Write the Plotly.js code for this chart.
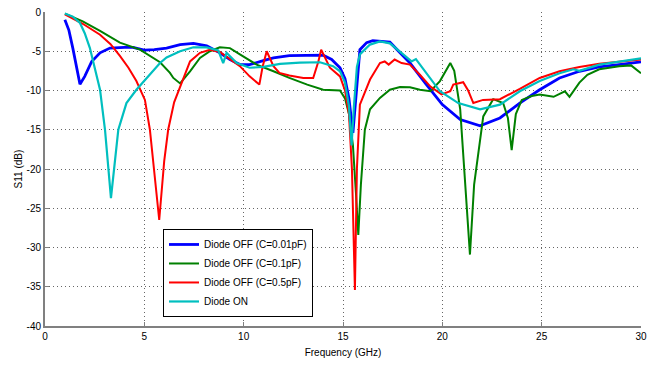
<!DOCTYPE html>
<html>
<head>
<meta charset="utf-8">
<script src="https://cdn.plot.ly/plotly-3.0.1.min.js"></script>
<style>html,body{margin:0;padding:0;background:#fff;}#chart{width:649px;height:365px;}</style>
</head>
<body>
<div id="chart"></div>
<script>
// Diode OFF (C=0.01pF)
const fBlue = [1, 1.2, 1.4, 1.6, 1.76, 2.0, 2.35, 2.77, 3.27, 4.0, 4.43, 5.0, 5.5, 6.12, 6.8, 7.47, 8.14, 8.8, 9.31, 9.81, 10.3, 10.99, 11.5, 12.3, 13.2, 14.0, 14.43, 14.85, 15.1, 15.3, 15.5, 15.65, 15.85, 16.19, 16.5, 17.36, 18.37, 19.2, 20.0, 20.9, 21.9, 22.9, 23.9, 24.9, 25.9, 26.9, 27.9, 28.9, 30];
const sBlue = [-1.0, -2.3, -4.6, -7.3, -9.2, -8.2, -6.3, -5.2, -4.6, -4.5, -4.5, -4.85, -4.8, -4.6, -4.15, -4.0, -4.3, -5.2, -6.05, -6.7, -6.7, -6.2, -5.85, -5.55, -5.5, -5.5, -6.05, -7.1, -8.5, -11, -15.4, -11, -4.8, -3.9, -3.65, -3.85, -6.5, -9.25, -11.8, -13.7, -14.5, -13.5, -11.6, -9.9, -8.4, -7.55, -7.0, -6.7, -6.35];

// Diode OFF (C=0.1pF)
const fGreen = [1, 1.9, 2.77, 3.77, 4.78, 5.79, 6.29, 6.46, 6.8, 7.3, 7.8, 8.3, 8.8, 9.31, 9.81, 10.65, 11.5, 12.3, 13.2, 14.0, 14.85, 15.1, 15.3, 15.5, 15.65, 15.77, 15.9, 16.1, 16.36, 16.86, 17.36, 17.87, 18.37, 18.87, 19.4, 19.88, 20.4, 20.6, 20.9, 21.1, 21.39, 21.6, 22.06, 22.56, 23.06, 23.3, 23.49, 23.7, 24.0, 24.5, 24.9, 25.6, 26.17, 26.4, 26.9, 27.3, 27.9, 28.9, 29.5, 30];
const sGreen = [-0.2, -1.2, -2.4, -3.9, -4.8, -6.4, -7.75, -8.4, -9.1, -7.55, -5.85, -5.0, -4.5, -4.6, -5.4, -6.7, -7.55, -8.4, -9.25, -9.9, -10.0, -11, -13, -17, -23, -28.4, -22, -15, -12.4, -10.95, -9.9, -9.55, -9.6, -9.9, -10.1, -8.8, -6.5, -7.5, -12.4, -20, -30.9, -22, -13.3, -11.1, -11.6, -13.5, -17.6, -13, -11.2, -10.7, -10.5, -10.8, -10.1, -10.8, -9.0, -8.0, -7.3, -6.9, -6.8, -7.8];

// Diode OFF (C=0.5pF)
const fRed = [1, 1.9, 2.77, 3.3, 3.77, 4.2, 4.6, 5.03, 5.28, 5.5, 5.75, 6.0, 6.2, 6.5, 6.96, 7.3, 7.8, 8.3, 8.8, 9.31, 9.81, 10.3, 10.79, 10.95, 11.16, 11.5, 11.8, 12.3, 13.0, 13.5, 13.76, 13.9, 14.18, 14.34, 14.85, 15.1, 15.3, 15.45, 15.6, 15.7, 15.85, 16.36, 16.86, 17.1, 17.3, 17.6, 17.95, 18.37, 18.87, 19.4, 19.96, 20.4, 20.55, 21.05, 21.3, 21.56, 22.05, 22.9, 23.9, 24.9, 25.9, 26.9, 27.9, 28.9, 30];
const sRed = [-0.3, -1.5, -2.9, -4.1, -5.6, -7.1, -8.8, -11.2, -15, -20, -26.5, -19, -15, -11.5, -8.4, -6.3, -5.2, -4.8, -5.1, -6.05, -6.9, -8.2, -9.25, -7, -5.0, -6.9, -7.75, -8.1, -8.4, -8.4, -6.3, -4.8, -6.3, -7.1, -8.2, -10, -13, -20, -35.4, -20, -11.8, -8.6, -6.5, -6.3, -6.7, -6.05, -6.5, -6.7, -8.0, -9.5, -10.5, -10.1, -9.25, -8.95, -10, -11.6, -11.2, -11.1, -9.8, -8.4, -7.55, -7.0, -6.6, -6.3, -6.05];

// Diode ON
const fCyan = [1, 1.4, 1.76, 2.0, 2.26, 2.5, 2.77, 3.02, 3.32, 3.69, 4.1, 4.6, 5.28, 5.79, 6.12, 6.8, 7.47, 8.14, 8.72, 8.97, 9.14, 9.65, 10.3, 10.99, 11.83, 12.83, 13.84, 14.5, 14.85, 15.1, 15.3, 15.43, 15.55, 15.7, 15.85, 16.36, 16.86, 17.36, 18.03, 18.45, 18.67, 19.2, 19.88, 20.8, 21.9, 22.9, 23.9, 24.9, 25.9, 26.6, 26.9, 27.9, 28.9, 30];
const sCyan = [-0.2, -0.6, -1.4, -2.7, -4.6, -7.0, -9.9, -15, -23.7, -15, -11.6, -9.9, -8.0, -6.5, -5.8, -5.0, -4.5, -4.5, -4.9, -6.5, -5.2, -6.5, -7.1, -7.0, -6.6, -6.45, -6.4, -6.9, -7.55, -9, -12, -17, -12, -7, -5.4, -4.15, -3.75, -4.0, -5.4, -6.3, -6.0, -7.8, -10.1, -11.6, -12.4, -11.8, -10.1, -8.8, -7.8, -7.3, -7.5, -6.7, -6.3, -5.9];

const xTicks = [0, 5, 10, 15, 20, 25, 30];
const yTicks = [0, -5, -10, -15, -20, -25, -30, -35, -40];
const yTickText = ['0', '-5', '-10', '-15', '-20', '-25', '-30', '-35', '-40'];
const seriesNames = ['Diode OFF (C=0.01pF)', 'Diode OFF (C=0.1pF)', 'Diode OFF (C=0.5pF)', 'Diode ON'];

const FONT = 'Liberation Sans, Arial, sans-serif';

const traces = [
  {x: fBlue, y: sBlue, name: seriesNames[0], line: {color: '#0000ff', width: 2.8}},
  {x: fGreen, y: sGreen, name: seriesNames[1], line: {color: '#008000', width: 2}},
  {x: fRed, y: sRed, name: seriesNames[2], line: {color: '#ff0000', width: 2}},
  {x: fCyan, y: sCyan, name: seriesNames[3], line: {color: '#00bfbf', width: 2.2}}
].map(t => Object.assign({type: 'scatter', mode: 'lines'}, t));

const layout = {
  width: 649, height: 365,
  margin: {l: 45, r: 8, t: 12, b: 39},
  paper_bgcolor: '#ffffff', plot_bgcolor: '#ffffff',
  font: {family: FONT, size: 10, color: '#000'},
  showlegend: true,
  legend: {
    x: 0.198, y: 0.309, xanchor: 'left', yanchor: 'top',
    bgcolor: '#ffffff', bordercolor: '#000000', borderwidth: 1,
    font: {family: FONT, size: 10, color: '#000'},
    itemwidth: 30, tracegroupgap: 0
  },
  xaxis: {
    range: [0, 30], tickvals: xTicks, ticktext: xTicks.map(String),
    showgrid: true, gridcolor: '#666', griddash: '1px,3px', gridwidth: 1,
    zeroline: false, showline: true, linecolor: '#808080', linewidth: 2,
    ticks: 'inside', ticklen: 4, tickcolor: '#808080',
    title: {text: 'Frequency (GHz)', font: {family: FONT, size: 10}, standoff: 8},
    mirror: false
  },
  yaxis: {
    range: [-40, 0], tickvals: yTicks, ticktext: yTickText,
    showgrid: true, gridcolor: '#666', griddash: '1px,3px', gridwidth: 1,
    zeroline: false, showline: true, linecolor: '#808080', linewidth: 2,
    ticks: 'inside', ticklen: 4, tickcolor: '#808080',
    title: {text: 'S11 (dB)', font: {family: FONT, size: 10}, standoff: 2}
  }
};

Plotly.newPlot('chart', traces, layout, {displayModeBar: false, staticPlot: true});
</script>
</body>
</html>
